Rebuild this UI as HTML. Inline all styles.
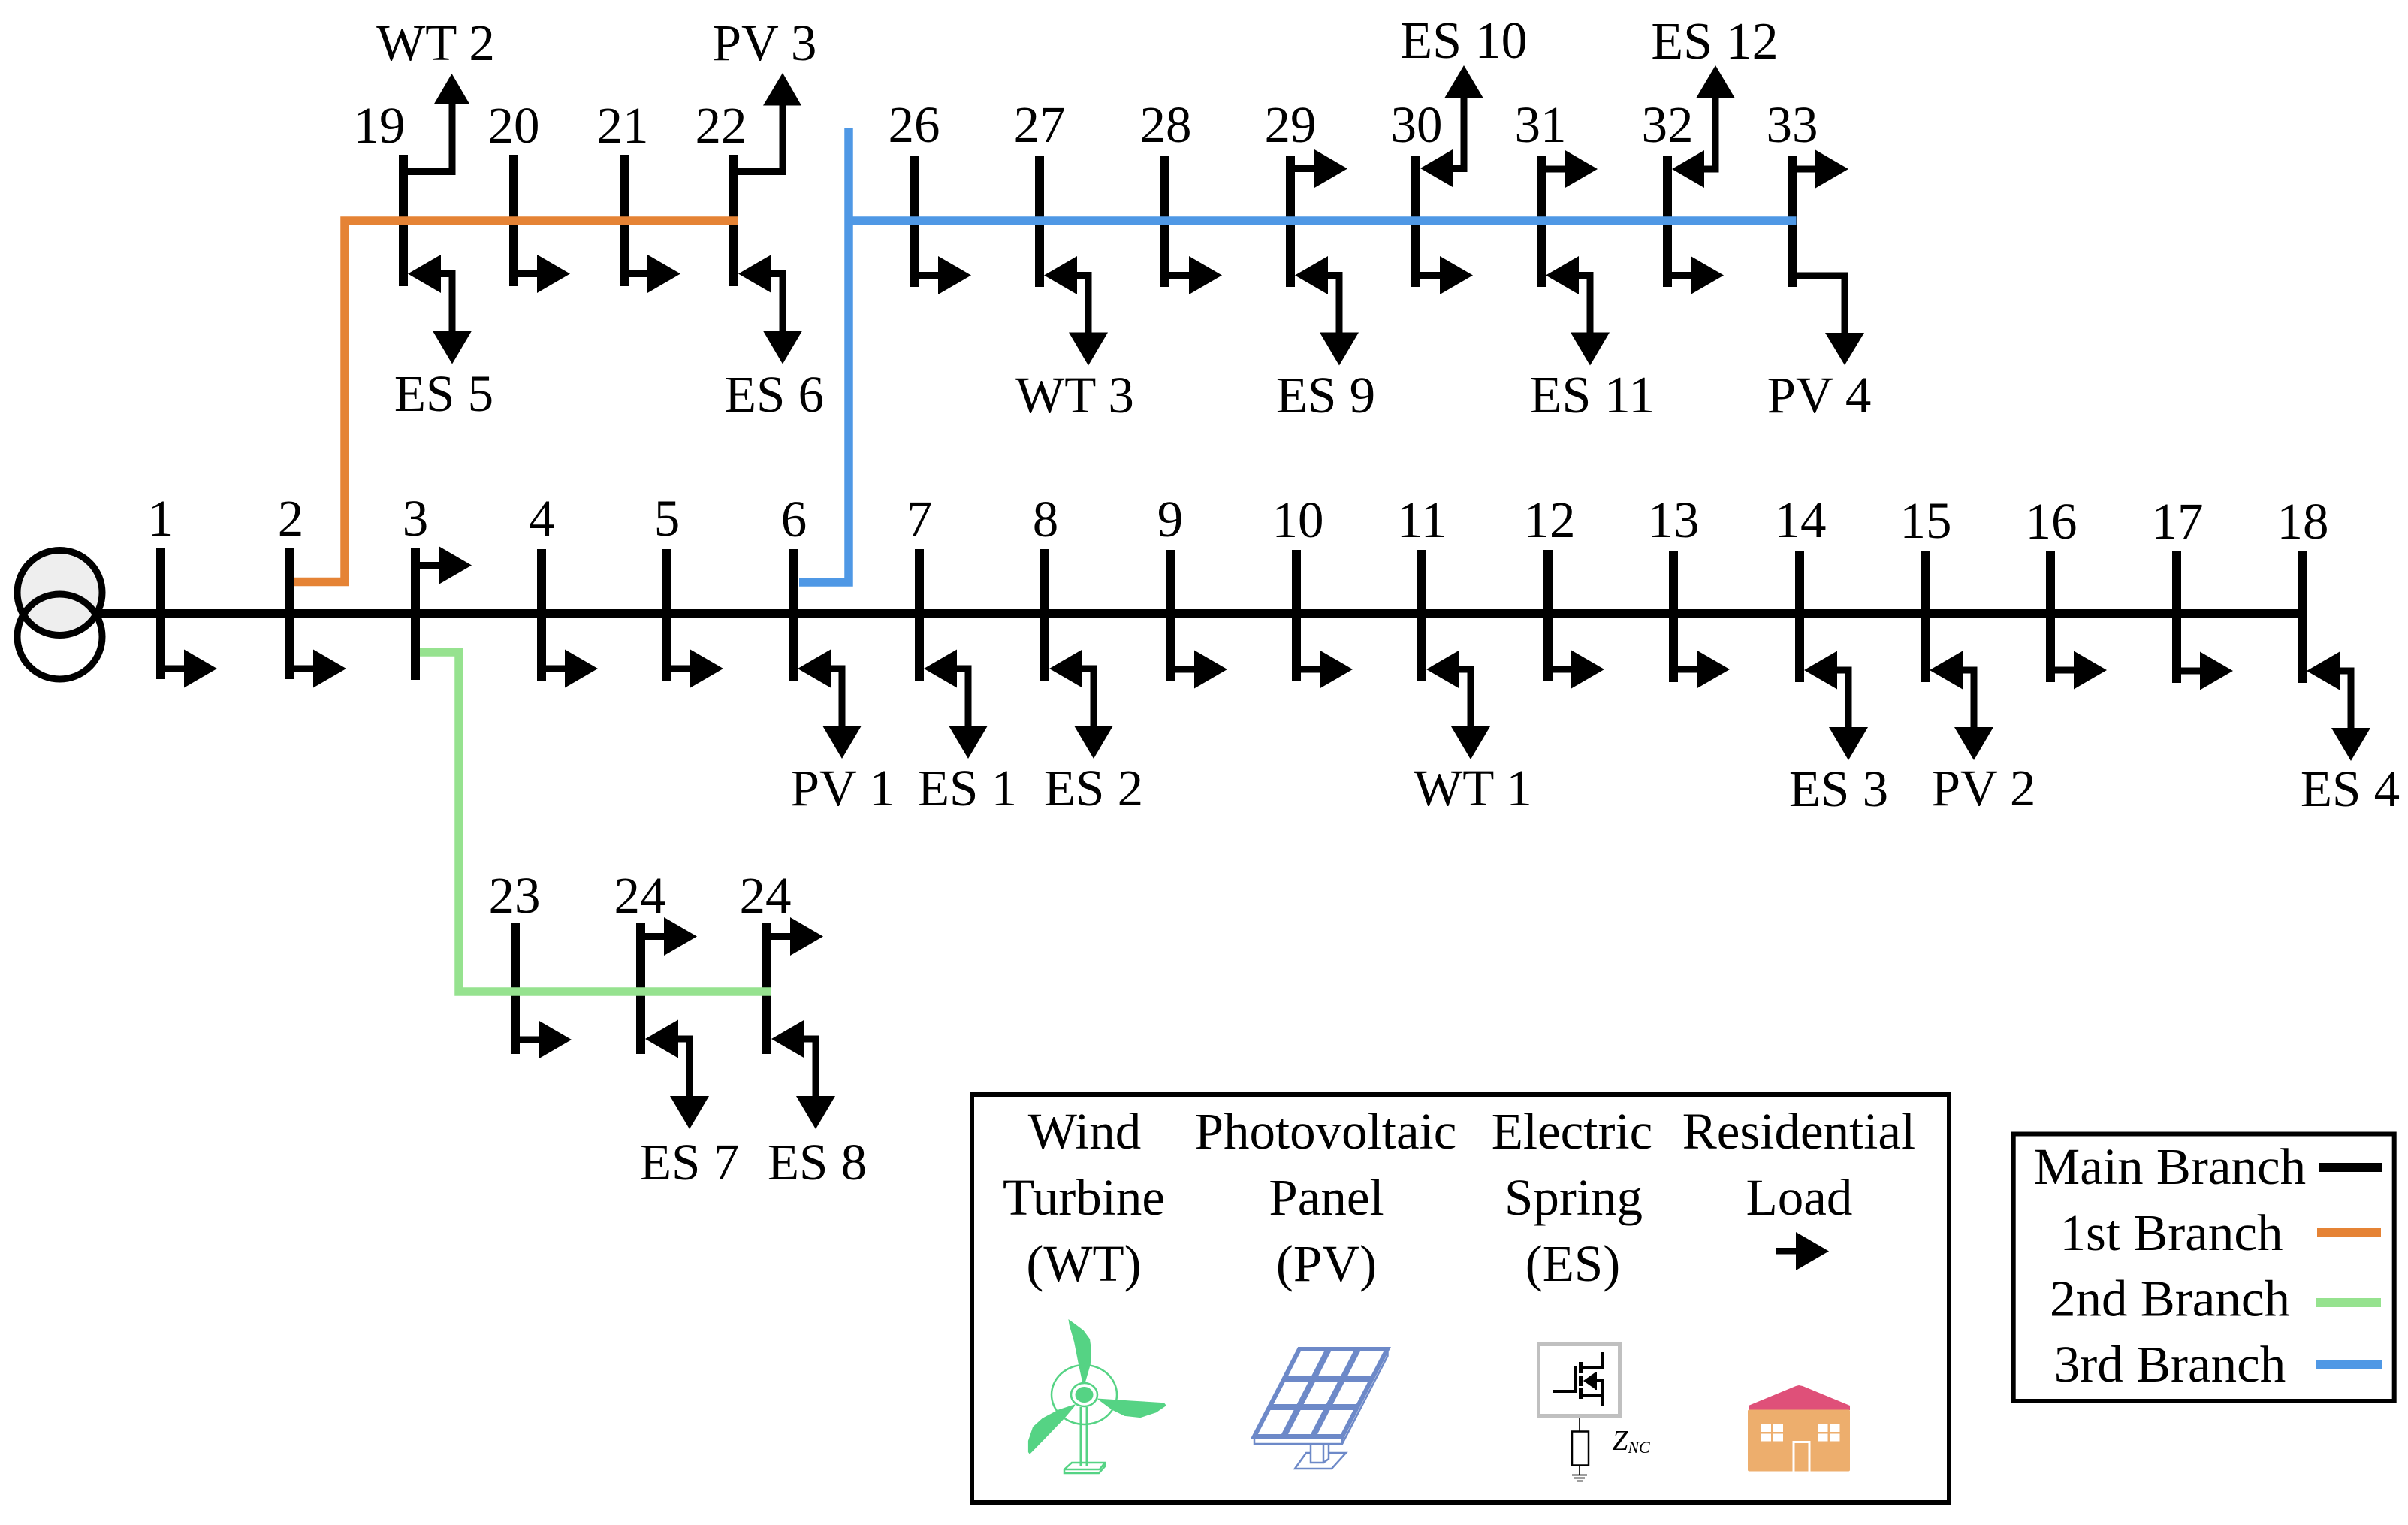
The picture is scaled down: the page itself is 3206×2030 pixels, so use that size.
<!DOCTYPE html>
<html>
<head>
<meta charset="utf-8">
<title>Distribution network diagram</title>
<style>
html,body{margin:0;padding:0;background:#fff}
svg{display:block}
text{font-family:"Liberation Serif",serif;font-size:69px;fill:#000;text-anchor:middle}
</style>
</head>
<body>
<svg xmlns="http://www.w3.org/2000/svg" width="3206" height="2030" viewBox="0 0 3206 2030">
<defs>
<g id="L">
<rect x="0" y="-4.500" width="33" height="9" fill="#000"/>
<polygon points="31,-25.500 75,0 31,25.500" fill="#000"/>
</g>
<g id="E">
<polygon points="6,0 50,-25.500 50,25.500" fill="#000"/>
<path d="M48 0H65V80" fill="none" stroke="#000" stroke-width="9"/>
<polygon points="39,76 91,76 65,120" fill="#000"/>
</g>
</defs>
<rect width="3206" height="2030" fill="#fff"/>

<!-- transformer -->
<circle cx="79.500" cy="789" r="56.500" fill="#eee" stroke="#000" stroke-width="9"/>
<circle cx="79.500" cy="847.500" r="56.500" fill="none" stroke="#000" stroke-width="9"/>

<!-- main buses -->
<g fill="#000">
<rect x="208" y="729" width="12" height="175"/>
<rect x="380" y="729" width="12" height="175"/>
<rect x="547" y="730" width="12" height="175"/>
<rect x="715" y="731" width="12" height="175"/>
<rect x="882" y="731" width="12" height="175"/>
<rect x="1050" y="731" width="12" height="175"/>
<rect x="1218" y="731" width="12" height="175"/>
<rect x="1385" y="731" width="12" height="175"/>
<rect x="1553" y="732" width="12" height="175"/>
<rect x="1720" y="732" width="12" height="175"/>
<rect x="1887" y="732" width="12" height="175"/>
<rect x="2055" y="732" width="12" height="175"/>
<rect x="2222" y="733" width="12" height="175"/>
<rect x="2390" y="733" width="12" height="175"/>
<rect x="2557" y="733" width="12" height="175"/>
<rect x="2724" y="733" width="12" height="175"/>
<rect x="2892" y="734" width="12" height="175"/>
<rect x="3059" y="734" width="12" height="175"/>
<rect x="130" y="811" width="2935" height="12"/>
</g>
<use href="#L" x="214" y="890"/>
<use href="#L" x="386" y="890"/>
<use href="#L" x="553" y="752.500"/>
<use href="#L" x="721" y="890"/>
<use href="#L" x="888" y="890"/>
<use href="#E" x="1056" y="890"/>
<use href="#E" x="1224" y="890"/>
<use href="#E" x="1391" y="890"/>
<use href="#L" x="1559" y="891"/>
<use href="#L" x="1726" y="891"/>
<use href="#E" x="1893" y="891"/>
<use href="#L" x="2061" y="891"/>
<use href="#L" x="2228" y="891"/>
<use href="#E" x="2396" y="892"/>
<use href="#E" x="2563" y="892"/>
<use href="#L" x="2730" y="892"/>
<use href="#L" x="2898" y="893"/>
<use href="#E" x="3065" y="893"/>

<!-- top-left branch buses -->
<g fill="#000">
<rect x="531" y="206" width="12" height="175"/>
<rect x="678" y="206" width="12" height="175"/>
<rect x="825" y="206" width="12" height="175"/>
<rect x="971" y="206" width="12" height="175"/>
</g>
<path d="M537 228.500H602V135" fill="none" stroke="#000" stroke-width="9"/>
<polygon points="577.500,139 625.500,139 601.500,98" fill="#000"/>
<path d="M977 228.500H1042V135" fill="none" stroke="#000" stroke-width="9"/>
<polygon points="1016,140.500 1067,140.500 1042,97" fill="#000"/>
<use href="#E" x="537" y="364.500"/>
<use href="#L" x="684" y="364.500"/>
<use href="#L" x="831" y="364.500"/>
<use href="#E" x="977" y="364.500"/>

<!-- top-right branch buses -->
<g fill="#000">
<rect x="1211" y="207" width="12" height="175"/>
<rect x="1378" y="207" width="12" height="175"/>
<rect x="1545" y="207" width="12" height="175"/>
<rect x="1712" y="207" width="12" height="175"/>
<rect x="1879" y="207" width="12" height="175"/>
<rect x="2046" y="207" width="12" height="175"/>
<rect x="2214" y="207" width="12" height="175"/>
<rect x="2380" y="207" width="12" height="175"/>
</g>
<use href="#L" x="1218" y="366.500"/>
<use href="#E" x="1384" y="366.500"/>
<use href="#L" x="1552" y="366.500"/>
<use href="#L" x="1719" y="224.500"/>
<use href="#E" x="1718" y="366.500"/>
<use href="#L" x="1886" y="366.500"/>
<use href="#L" x="2052" y="225"/>
<use href="#E" x="2052" y="366.500"/>
<use href="#L" x="2220" y="366.500"/>
<use href="#L" x="2386" y="225"/>
<!-- ES 10 -->
<polygon points="1891,224 1934,199 1934,249" fill="#000"/>
<path d="M1932 224.500H1949V125" fill="none" stroke="#000" stroke-width="9"/>
<polygon points="1923.500,130 1974.500,130 1949,87" fill="#000"/>
<!-- ES 12 -->
<polygon points="2226,225 2269,200 2269,250" fill="#000"/>
<path d="M2267 225H2284V125" fill="none" stroke="#000" stroke-width="9"/>
<polygon points="2258.500,130 2309.500,130 2284,87" fill="#000"/>
<!-- PV 4 -->
<path d="M2386 367H2456V447" fill="none" stroke="#000" stroke-width="9"/>
<polygon points="2430,443 2482,443 2456,486" fill="#000"/>

<!-- lower branch buses -->
<g fill="#000">
<rect x="680" y="1228" width="12" height="175"/>
<rect x="847" y="1228" width="12" height="175"/>
<rect x="1015" y="1228" width="12" height="175"/>
</g>
<use href="#L" x="686" y="1384"/>
<use href="#L" x="853" y="1246.500"/>
<use href="#E" x="853" y="1383"/>
<use href="#L" x="1021" y="1246.500"/>
<use href="#E" x="1021" y="1383"/>

<!-- coloured branches -->
<path d="M392 774.500H459V294H983" fill="none" stroke="#e58335" stroke-width="11.500"/>
<path d="M1064 775H1130V170" fill="none" stroke="#4f98e5" stroke-width="11.500"/>
<path d="M1130 294H2391.500" fill="none" stroke="#4f98e5" stroke-width="11.500"/>
<path d="M559 868H611V1320H1027" fill="none" stroke="#96e28f" stroke-width="11.500"/>
<rect x="1098" y="548" width="1" height="7" fill="#6d89c8"/>

<!-- main numbers -->
<text x="214" y="713">1</text>
<text x="387" y="713">2</text>
<text x="553" y="713">3</text>
<text x="721" y="713">4</text>
<text x="888" y="713">5</text>
<text x="1057" y="714">6</text>
<text x="1224" y="714">7</text>
<text x="1392" y="714">8</text>
<text x="1558" y="714">9</text>
<text x="1728" y="715">10</text>
<text x="1893" y="715">11</text>
<text x="2063" y="715">12</text>
<text x="2228" y="715">13</text>
<text x="2397" y="715">14</text>
<text x="2564" y="716">15</text>
<text x="2731" y="717">16</text>
<text x="2899" y="717">17</text>
<text x="3066" y="717">18</text>

<text x="1122" y="1072">PV 1</text>
<text x="1288" y="1072">ES 1</text>
<text x="1456" y="1072">ES 2</text>
<text x="1961" y="1072">WT 1</text>
<text x="2448" y="1073">ES 3</text>
<text x="2641" y="1072">PV 2</text>
<text x="3129" y="1073">ES 4</text>

<!-- top numbers -->
<text x="505" y="190">19</text>
<text x="684" y="190">20</text>
<text x="829" y="190">21</text>
<text x="960" y="190">22</text>
<text x="1217" y="189">26</text>
<text x="1384" y="189">27</text>
<text x="1552" y="189">28</text>
<text x="1718" y="189">29</text>
<text x="1886" y="189">30</text>
<text x="2051" y="189">31</text>
<text x="2220" y="189">32</text>
<text x="2386" y="189">33</text>
<text x="580" y="80">WT 2</text>
<text x="1018" y="80">PV 3</text>
<text style="font-size:70px" x="1949" y="77">ES 10</text>
<text style="font-size:70px" x="2283" y="78">ES 12</text>
<text x="591" y="547">ES 5</text>
<text x="1031" y="548">ES 6</text>
<text x="1431" y="549">WT 3</text>
<text x="1765" y="549">ES 9</text>
<text style="font-size:70px" x="2120" y="549">ES 11</text>
<text x="2422" y="549">PV 4</text>

<text x="685" y="1215">23</text>
<text x="852" y="1215">24</text>
<text x="1019" y="1215">24</text>
<text x="918" y="1570">ES 7</text>
<text x="1088" y="1570">ES 8</text>

<!-- legend box 1 -->
<rect x="1294" y="1457" width="1301" height="543" fill="none" stroke="#000" stroke-width="6"/>
<text x="1444" y="1529">Wind</text>
<text x="1443" y="1617">Turbine</text>
<text x="1443" y="1705">(WT)</text>
<text x="1765" y="1529">Photovoltaic</text>
<text x="1766" y="1617">Panel</text>
<text x="1766" y="1705">(PV)</text>
<text x="2093" y="1529">Electric</text>
<text x="2095" y="1617">Spring</text>
<text x="2094" y="1705">(ES)</text>
<text x="2395" y="1529">Residential</text>
<text x="2395.500" y="1617">Load</text>
<rect x="2364" y="1661" width="28" height="8.500" fill="#000"/>
<polygon points="2391,1640 2435,1665.500 2391,1691" fill="#000"/>

<!-- wind turbine -->
<g fill="#55d384" stroke="none">
<polygon points="1422.400,1756 1432,1763 1442.600,1771 1451,1782.500 1453,1797.500 1451.800,1816.400 1444.700,1840.800 1441.700,1842.700 1436,1816.400 1430,1786 1423.600,1763.700"/>
<polygon points="1460.200,1861.500 1505.700,1864.500 1549.900,1867.200 1552.800,1871 1539.400,1880.300 1518.300,1887.100 1497.300,1884.900 1480.400,1876.600 1467.800,1867.200"/>
<polygon points="1432,1869 1408.900,1876.600 1387.800,1887.900 1375.200,1899.200 1368.900,1918 1368.900,1933 1371,1935.700 1392,1914.200 1417.300,1887.900 1430,1872.800"/>
<ellipse cx="1443.500" cy="1856.500" rx="12" ry="10.500"/>
</g>
<g fill="none" stroke="#55d384" stroke-width="2.500">
<ellipse cx="1443.500" cy="1856.500" rx="17.500" ry="15.500"/>
<ellipse cx="1443.500" cy="1856.500" rx="43.500" ry="39.500"/>
<path d="M1439 1873V1952M1447 1873V1952" stroke-width="3"/>
<path d="M1427 1947H1471V1952L1463 1961H1417V1956ZM1417 1956H1464L1471 1947"/>
</g>

<!-- solar panel -->
<g fill="none" stroke="#6d89c8" stroke-linejoin="miter">
<path d="M1730 1796H1847L1787 1912H1670Z" stroke-width="6"/>
<path d="M1769 1796L1709 1912M1808 1796L1748 1912M1710 1835H1827M1690 1873H1807" stroke-width="8"/>
<path d="M1670 1912V1922H1787L1847.500 1805V1796M1787 1912V1922" stroke-width="2.500"/>
<path d="M1745 1922V1947H1762V1922M1762 1947L1769 1942V1922" stroke-width="2.500"/>
<path d="M1745 1934H1739L1724 1955H1773L1792 1934H1769" stroke-width="2.500"/>
</g>

<!-- electric spring icon -->
<rect x="2048.500" y="1789.500" width="108" height="95" fill="none" stroke="#c0c0c0" stroke-width="5"/>
<g fill="#000">
<rect x="2067" y="1850" width="33" height="4"/>
<rect x="2096" y="1819" width="4" height="35"/>
<rect x="2102" y="1813" width="5" height="15"/>
<rect x="2102" y="1831" width="5" height="14"/>
<rect x="2102" y="1848" width="5" height="14"/>
<rect x="2107" y="1818" width="29" height="4.500"/>
<rect x="2131.500" y="1800" width="4.500" height="22"/>
<rect x="2107" y="1855" width="29" height="4"/>
<rect x="2131.500" y="1835" width="4.500" height="36"/>
<rect x="2123" y="1835" width="13" height="4"/>
<rect x="2123" y="1826" width="3" height="24"/>
<polygon points="2108,1838 2125,1826 2125,1850"/>
</g>
<path d="M2103 1887V1905M2103 1951V1963M2093 1963.500H2113M2096 1967.500H2110M2099 1971.500H2107" stroke="#000" stroke-width="1.700" fill="none"/>
<rect x="2093" y="1905.500" width="22" height="45" fill="none" stroke="#000" stroke-width="2.500"/>
<text x="2157" y="1930" style="font-size:38px;font-style:italic">Z</text>
<text x="2182" y="1934" style="font-size:22px;font-style:italic">NC</text>

<!-- house -->
<polygon points="2328,1877 2328,1871 2391,1845 2395,1844 2400,1845 2463,1871 2463,1877" fill="#df5079"/>
<rect x="2327" y="1876.500" width="136" height="82" rx="2" fill="#edae6d"/>
<g fill="#fff">
<rect x="2345" y="1896" width="13" height="10"/><rect x="2361" y="1896" width="13" height="10"/>
<rect x="2345" y="1908.500" width="13" height="10"/><rect x="2361" y="1908.500" width="13" height="10"/>
<rect x="2420.500" y="1896" width="13" height="10"/><rect x="2436.500" y="1896" width="13" height="10"/>
<rect x="2420.500" y="1908.500" width="13" height="10"/><rect x="2436.500" y="1908.500" width="13" height="10"/>
</g>
<path d="M2388 1958.500V1919.500H2409V1958.500" fill="none" stroke="#fff" stroke-width="3"/>

<!-- legend box 2 -->
<rect x="2680.700" y="1509.500" width="507" height="355.500" fill="none" stroke="#000" stroke-width="6"/>
<text x="2889" y="1576">Main Branch</text>
<text x="2891" y="1664">1st Branch</text>
<text x="2889" y="1751.500">2nd Branch</text>
<text x="2889" y="1839">3rd Branch</text>
<rect x="3087" y="1548" width="85" height="12" fill="#000"/>
<rect x="3085" y="1634" width="85" height="12" fill="#e58335"/>
<rect x="3084" y="1728" width="86" height="12" fill="#96e28f"/>
<rect x="3084" y="1811" width="87" height="12" fill="#4f98e5"/>
</svg>
</body>
</html>
